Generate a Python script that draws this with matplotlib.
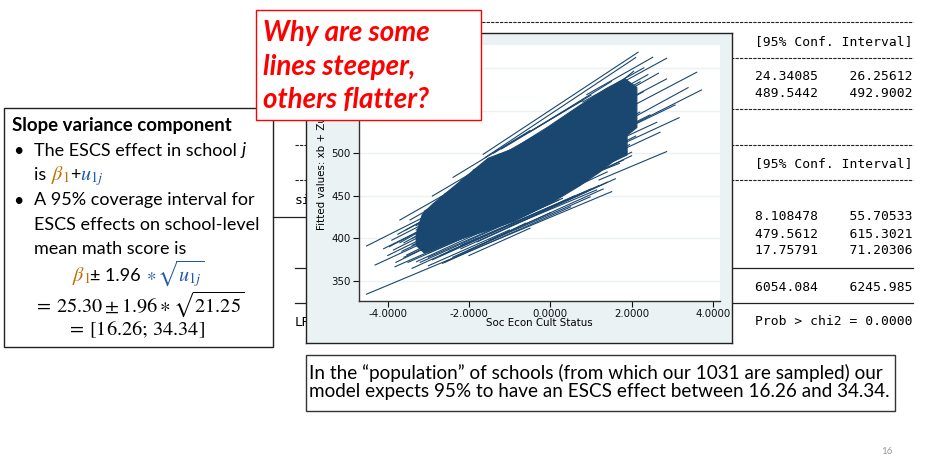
import numpy as np
import matplotlib
matplotlib.use('Agg')
import matplotlib.pyplot as plt
from matplotlib.patches import Rectangle

# Núcleo denso das retas (contorno)
blob_x = [-3.30, -3.15, -2.90, -2.34, -1.53, -0.92, -0.08, 0.73, 1.39, 1.84,
          2.13, 2.13, 1.89, 1.89, 1.54, 1.22, 0.73, 0.00, -0.90, -1.50, -2.30, -3.10, -3.30]
blob_y = [405.0, 428.0, 440.0, 462.0, 494.0, 505.0, 530.0, 556.0, 576.0, 587.0,
          577.0, 530.0, 521.0, 498.0, 490.0, 478.0, 462.0, 441.0, 420.0, 410.0, 398.0, 383.0, 392.0]

# Retas das escolas que saem do núcleo (x inicial, y inicial, x final, y final)
x_ini = [-1.65, -1.60, 0.90, 1.20, 1.60, 1.80, 1.60, 1.50, 1.70, 1.60, 1.70, 1.20,
         1.60, 1.50, 0.80, -4.52, -1.00, 1.50, 1.30, 1.20,
         -4.52, -4.31, -3.96, -3.82, -3.86, -3.70, -3.45, -2.90, -2.39, -2.65,
         -3.53, -3.29, -2.00, -3.00, -2.20, -3.40,
         -3.90, -3.75, -3.60, -3.55, -3.40, -3.65, -3.30, -3.20,
         0.50, 0.80, 0.50, 0.30,
         -3.20, -2.90, -2.70, -2.50, -3.00, -2.20, -1.80, -1.50, -3.50, -3.60, -2.00,
         -3.10, -2.70, -2.20, -1.90,
         -1.20, -0.50, -1.40,
         0.80, 1.00, 0.60,
         -0.50, 0.00, -1.00, 0.20,
         -4.00, -3.80, -3.70, -4.10, -3.40, -3.00, -2.60, -2.40, -3.30, -3.10,
         -3.00, -2.60]
y_ini = [498.7, 495.0, 568.7, 568.0, 544.8, 528.0, 530.3, 562.4, 558.0, 507.0, 525.0, 468.6,
         513.8, 498.0, 474.7, 334.7, 414.1, 522.0, 546.4, 556.5,
         391.2, 368.9, 390.4, 366.9, 386.5, 421.7, 421.7, 449.8, 471.7, 370.9,
         380.7, 372.8, 386.4, 378.0, 392.0, 392.0,
         398.0, 405.0, 395.0, 410.0, 400.0, 385.0, 415.0, 395.0,
         521.0, 512.0, 481.6, 470.0,
         372.0, 375.0, 380.0, 385.0, 383.0, 388.0, 396.0, 398.0, 372.0, 378.0, 380.0,
         432.0, 448.0, 468.0, 480.0,
         505.0, 525.0, 500.0,
         560.0, 555.0, 540.0,
         440.0, 452.0, 425.0, 460.0,
         380.0, 372.0, 395.0, 388.0, 365.0, 368.0, 372.0, 378.0, 410.0, 420.0,
         430.0, 452.0]
x_fim = [2.16, 2.10, 2.52, 2.86, 3.60, 3.72, 3.39, 2.66, 2.86, 3.17, 3.07, 2.86,
         2.62, 2.70, 2.00, 1.51, 1.14, 2.45, 2.29, 2.21,
         -2.00, -1.50, -2.00, -0.50, -2.50, -1.50, -2.00, -1.00, -0.50, 0.50,
         -2.50, -1.00, 0.98, 0.30, 1.00, -0.50,
         -2.50, -2.40, -2.30, -2.20, -2.10, -2.40, -2.00, -1.90,
         2.00, 2.20, 2.10, 1.95,
         0.20, 0.60, 1.20, 0.90, -0.20, 1.40, 1.60, 1.30, -1.50, -1.80, -0.50,
         -1.50, -1.20, -0.80, -0.30,
         1.00, 1.50, 0.80,
         2.30, 2.40, 2.05,
         1.80, 2.00, 1.40, 1.70,
         -2.80, -2.60, -2.60, -3.00, -1.80, -1.00, -0.60, 0.00, -2.60, -2.20,
         -1.80, -1.40]
y_fim = [618.3, 612.0, 612.4, 611.2, 594.8, 574.1, 576.8, 593.7, 587.0, 541.6, 556.5, 501.8,
         536.2, 524.5, 501.1, 454.9, 456.9, 544.8, 572.1, 583.8,
         451.7, 430.7, 439.4, 436.6, 419.1, 481.1, 460.9, 503.0, 526.5, 437.0,
         404.4, 423.2, 448.8, 447.0, 458.0, 455.0,
         432.0, 440.0, 428.0, 445.0, 433.0, 414.0, 452.0, 428.0,
         560.0, 548.0, 520.0, 510.0,
         445.0, 450.0, 462.0, 455.0, 440.0, 466.0, 470.0, 458.0, 414.0, 416.0, 412.0,
         478.0, 490.0, 508.0, 522.0,
         568.0, 584.0, 562.0,
         600.0, 592.0, 596.0,
         492.0, 497.0, 478.0, 488.0,
         408.0, 400.0, 425.0, 414.0, 400.0, 410.0, 418.0, 430.0, 428.0, 445.0,
         470.0, 487.0]

x_ticks = [-4, -2, 0, 2, 4]
x_rotulos = ['-4.0000', '-2.0000', '0.0000', '2.0000', '4.0000']
y_ticks = [350, 400, 450, 500, 550, 600]
y_rotulos = ['350', '400', '450', '500', '', '']  # 550 e 600 ficam sob o balão

# Saída do Stata que aparece à direita
linhas_tabela = ['[95% Conf. Interval]', '24.34085    26.25612', '489.5442    492.9002',
                 '[95% Conf. Interval]', '8.108478    55.70533', '479.5612    615.3021',
                 '17.75791    71.20306', '6054.084    6245.985', 'Prob > chi2 = 0.0000']
y_tabela = [41.7, 76, 93.3, 164, 216, 234, 250.7, 287.3, 321.7]
y_tracejado = [21.7, 57.7, 109.3, 145, 180]
y_solido = [268.3, 303.3]

W, H = 939, 458
AZUL = '#1a476f'
LARANJA = '#c07000'
AZUL_U = '#1f5aa6'


def frac(x0, y0, x1, y1):
    return [x0 / W, 1 - y1 / H, (x1 - x0) / W, (y1 - y0) / H]


def texto_colorido(ax, x, y, partes, **kw):
    r = ax.figure.canvas.get_renderer()
    for s, cor, extra in partes:
        opcoes = dict(kw)
        opcoes.update(extra)
        t = ax.text(x, y, s, color=cor, va='baseline', **opcoes)
        x += t.get_window_extent(renderer=r).width
    return x


plt.rcParams['mathtext.fontset'] = 'stix'
fig = plt.figure(figsize=(W / 100, H / 100), dpi=100)
fig.patch.set_facecolor('white')

# Fundo do slide
bg = fig.add_axes([0, 0, 1, 1], zorder=0)
bg.set_xlim(0, W)
bg.set_ylim(H, 0)
bg.axis('off')

for y in y_tracejado:
    bg.plot([295, 913], [y, y], color='#222222', lw=0.8, linestyle=(0, (3, 1)))
for y in y_solido:
    bg.plot([295, 913], [y, y], color='#222222', lw=0.9)
bg.plot([272.7, 306], [216.7, 216.7], color='#222222', lw=0.9)
for s, y in zip(linhas_tabela, y_tabela):
    bg.text(755, y, s, family='DejaVu Sans Mono', fontsize=9.4, va='center', ha='left')
bg.text(295, 200, 'si', family='DejaVu Sans Mono', fontsize=9.4, va='center')
bg.text(295, 322, 'LR', family='DejaVu Sans Mono', fontsize=9.4, va='center')

# Caixa da esquerda
bg.add_patch(Rectangle((4, 108.3), 268.7, 238.4, fill=True, facecolor='white',
                       edgecolor='#222222', lw=1))
fonte = 'Lato'
fs = 13
fm = 14.6
bg.text(11.7, 130.5, 'Slope variance component', family=fonte, fontsize=13.4,
        fontweight='bold', va='baseline')
bg.text(13.3, 155.5, '•', family=fonte, fontsize=fs, va='baseline')
texto_colorido(bg, 34.3, 155.5, [('The ESCS effect in school ', 'black', {}),
                                 ('j', 'black', {'fontstyle': 'italic'})],
               family=fonte, fontsize=fs)
texto_colorido(bg, 34.3, 180.5, [('is ', 'black', {}),
                                 (r'$\beta_1$', LARANJA, {'fontsize': fm}),
                                 ('+', 'black', {}),
                                 (r'$u_{1j}$', AZUL_U, {'fontsize': fm})],
               family=fonte, fontsize=fs)
bg.text(13.3, 205.5, '•', family=fonte, fontsize=fs, va='baseline')
for s, y in [('A 95% coverage interval for', 205.5), ('ESCS effects on school-level', 229.5),
             ('mean math score is', 253.5)]:
    bg.text(34.3, y, s, family=fonte, fontsize=fs, va='baseline')
texto_colorido(bg, 71.7, 281, [(r'$\beta_1$', LARANJA, {'fontsize': fm}),
                               ('± 1.96 ', 'black', {}),
                               (r'$\ast$ ', AZUL_U, {'fontsize': 13}),
                               (r'$\sqrt{u_{1j}}$', AZUL_U, {'fontsize': fm})],
               family=fonte, fontsize=fs)
bg.text(34.3, 312, r'$=\, 25.30 \pm 1.96 \ast \sqrt{21.25}$', fontsize=fm, va='baseline')
bg.text(66.7, 335, r'$=\, [16.26;\, 34.34]$', fontsize=fm, va='baseline')

# Caixa de baixo
bg.add_patch(Rectangle((305.7, 355), 589.3, 56, fill=False, edgecolor='#333333', lw=1))
bg.text(309, 373, 'In the \u201cpopulation\u201d of schools (from which our 1031 are sampled) our',
        family=fonte, fontsize=13.6, va='center')
bg.text(309, 391, 'model expects 95% to have an ESCS effect between 16.26 and 34.34.',
        family=fonte, fontsize=13.6, va='center')
bg.text(886.7, 451, '16', family=fonte, fontsize=7, color='#999999', va='center', ha='center')

# Moldura do gráfico do Stata
moldura = fig.add_axes(frac(305.7, 33, 731.7, 342.7), zorder=1)
moldura.set_facecolor('#eaf2f3')
moldura.set_xticks([])
moldura.set_yticks([])
for sp in moldura.spines.values():
    sp.set_color('#222222')
    sp.set_linewidth(1)

# Gráfico das retas
ax = fig.add_axes(frac(359, 45, 720, 301), zorder=2)
ax.set_facecolor('white')
ax.fill(blob_x, blob_y, color=AZUL, lw=0.8, zorder=3)
for x0, y0, x1, y1 in zip(x_ini, y_ini, x_fim, y_fim):
    ax.plot([x0, x1], [y0, y1], color=AZUL, lw=0.8, zorder=4)
ax.set_xlim(-4.706, 4.175)
ax.set_ylim(326.7, 626.8)
ax.set_xticks(x_ticks)
ax.set_xticklabels(x_rotulos)
ax.set_yticks(y_ticks)
ax.set_yticklabels(y_rotulos)
ax.grid(axis='y', color='#eaf2f3', lw=1)
ax.set_axisbelow(True)
ax.tick_params(labelsize=7.4, length=4, width=0.8, pad=2, colors='#111111')
for lado in ['top', 'right']:
    ax.spines[lado].set_visible(False)
for lado in ['left', 'bottom']:
    ax.spines[lado].set_color('#333333')
    ax.spines[lado].set_linewidth(1)
ax.set_xlabel('Soc Econ Cult Status', fontsize=7.4, labelpad=-1)
ax.set_ylabel('Fitted values: xb + Zu', fontsize=7.4, labelpad=3)

# Balão vermelho
topo = fig.add_axes([0, 0, 1, 1], zorder=3)
topo.set_xlim(0, W)
topo.set_ylim(H, 0)
topo.axis('off')
topo.add_patch(Rectangle((255.7, 10), 225, 110, facecolor='white', edgecolor='#ff0000', lw=1))
for s, y in [('Why are some', 33.3), ('lines steeper,', 66.7), ('others flatter?', 100)]:
    topo.text(263.3, y, s, family=fonte, fontsize=20, fontweight='bold', fontstyle='italic',
              color='#ff0000', va='center')

fig.savefig('out.png', dpi=100)
